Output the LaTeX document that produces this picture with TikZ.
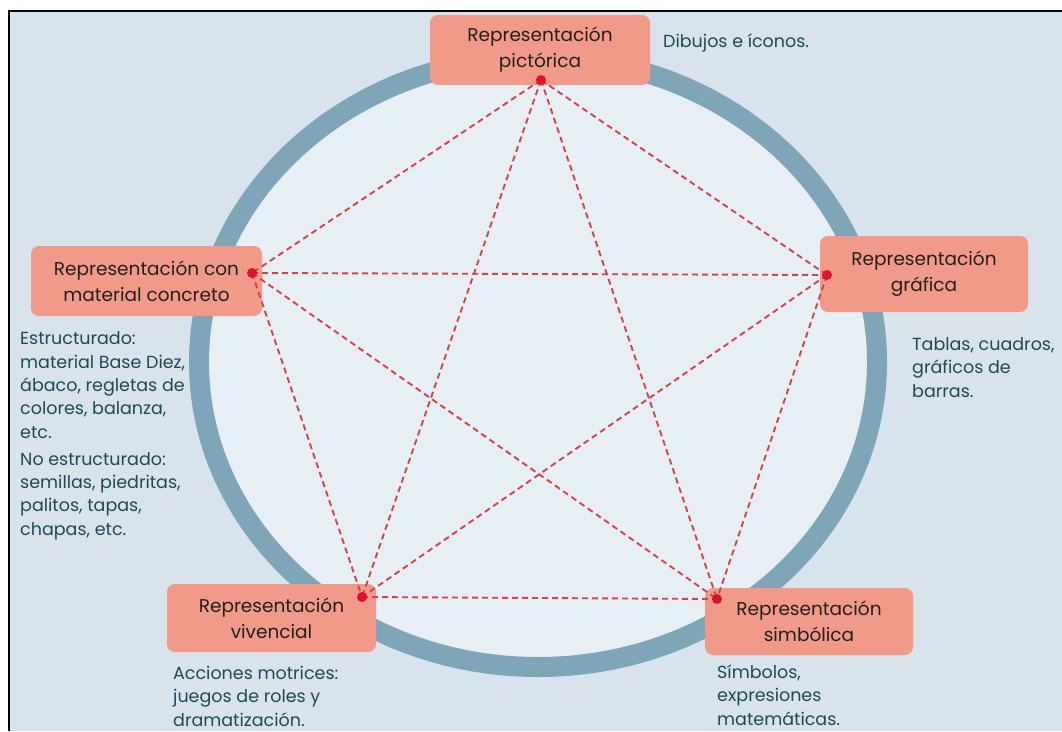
\documentclass[tikz,border=0pt]{standalone}
\usepackage{fontspec}
\setmainfont{Poppins}
\definecolor{bgc}{HTML}{D8E3EB}
\definecolor{innerc}{HTML}{E7EEF4}
\definecolor{ringc}{HTML}{7FA5B8}
\definecolor{boxc}{HTML}{F29A8A}
\definecolor{dashc}{HTML}{D0454A}
\definecolor{dotc}{HTML}{E01030}
\definecolor{descc}{HTML}{1E4A58}
\definecolor{boxtext}{HTML}{231F20}
\pgfdeclarelayer{lines}
\pgfsetlayers{main,lines}
\tikzset{
  repbox/.style={rectangle, rounded corners=8pt, fill=boxc, align=center, text=boxtext,
    font=\fontsize{18.5}{26}\selectfont, inner sep=0pt},
  dotnode/.style={circle, fill=dotc, inner sep=0pt, minimum size=10pt},
  link/.style={dashc, line width=1.9pt, dash pattern=on 6pt off 4pt},
  desc/.style={anchor=base west, align=left, text=descc, inner sep=0pt,
    font=\fontsize{17.5}{23.3}\selectfont},
}
\begin{document}
\begin{tikzpicture}[x=1pt,y=-1pt]
\useasboundingbox (0,0) rectangle (1062,731);
\fill[white] (0,0) rectangle (1062,731);
\fill[bgc] (9,11) rectangle (1062,731);
\draw[black, line width=2.5pt] (9,731) -- (9,11) -- (1062,11);
% ring
\draw[ringc, line width=20pt, fill=innerc] (538,362) ellipse [x radius=339, y radius=305];
% boxes
\node[repbox, minimum width=220pt, minimum height=70pt] (pic) at (540,50) {Representación\\pictórica};
\node[repbox, minimum width=231pt, minimum height=70pt] (con) at (146.5,281) {Representación con\\material concreto};
\node[repbox, minimum width=208pt, minimum height=76pt] (gra) at (924,274) {Representación\\gráfica};
\node[repbox, minimum width=209pt, minimum height=68pt] (viv) at (271.5,618) {Representación\\vivencial};
\node[repbox, minimum width=208pt, minimum height=67pt] (sim) at (809,621.5) {Representación\\simbólica};
% dots
\begin{pgfonlayer}{lines}
\node[dotnode] (p) at (541,80) {};
\node[dotnode] (c) at (252,273) {};
\node[dotnode] (g) at (827,275) {};
\node[dotnode] (v) at (362,597) {};
\node[dotnode] (s) at (717,599) {};
\end{pgfonlayer}
\begin{pgfonlayer}{main}
\draw[link] (p.center) -- (c.center);
\draw[link] (p.center) -- (g.center);
\draw[link] (p.center) -- (v.center);
\draw[link] (p.center) -- (s.center);
\draw[link] (c.center) -- (g.center);
\draw[link] (c.center) -- (v.center);
\draw[link] (c.center) -- (s.center);
\draw[link] (g.center) -- (v.center);
\draw[link] (g.center) -- (s.center);
\draw[link] (v.center) -- (s.center);
\end{pgfonlayer}
% descriptions (anchor = baseline of the last line)
\node[desc] (dpic) at (663,47) {Dibujos e íconos.};
\node[desc] (dcon1) at (20,438) {Estructurado:\\material Base Diez,\\ábaco, regletas de\\colores, balanza,\\etc.};
\node[desc] (dcon2) at (20,535) {No estructurado:\\semillas, piedritas,\\palitos, tapas,\\chapas, etc.};
\node[desc] (dgra) at (912,397) {Tablas, cuadros,\\gráficos de\\barras.};
\node[desc] (dviv) at (173,726) {Acciones motrices:\\juegos de roles y\\dramatización.};
\node[desc] (dsim) at (717,725) {Símbolos,\\expresiones\\matemáticas.};
\end{tikzpicture}
\end{document}
